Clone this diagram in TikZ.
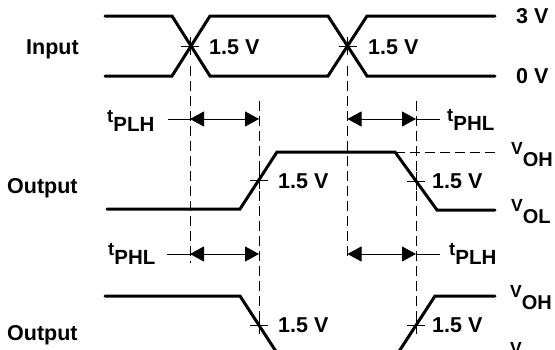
\documentclass[tikz,border=0pt]{standalone}
\usepackage{fontspec}
\setmainfont{Liberation Sans}
\usetikzlibrary{arrows.meta}
\newcommand\tsig[1]{{\fontsize{18.5}{18.5}\selectfont\raisebox{8.5pt}{t}}{\fontsize{20.5}{20.5}\selectfont #1}}
\newcommand\vsig[1]{{\fontsize{17.5}{17.5}\selectfont\raisebox{11.5pt}{V}}{\fontsize{20}{20}\selectfont #1}}
\begin{document}
\begin{tikzpicture}[x=1pt,y=-1pt,
  wave/.style={line width=3pt, line cap=round, line join=miter},
  guide/.style={line width=0.9pt, dash pattern=on 10pt off 5pt},
  thinline/.style={line width=0.9pt},
  lbl/.style={font=\fontsize{21.5}{21.5}\selectfont\bfseries, inner sep=0pt, anchor=base west},
  sig/.style={font=\bfseries, inner sep=0pt, anchor=base west},
  tarrow/.style={line width=0.9pt, arrows={Triangle[length=14pt,width=15pt]-Triangle[length=14pt,width=15pt]}},
  crossmark/.style={line width=0.9pt}]
\useasboundingbox (0,0) rectangle (555,349);
\clip (0,0) rectangle (555,349);

% ---------- Input ----------
\draw[wave] (105,16) -- (172,16) -- (210,76) -- (328,76) -- (367,16) -- (495,16);
\draw[wave] (105,76) -- (172,76) -- (210,16) -- (328,16) -- (367,76) -- (495,76);

% crossing points
\coordinate (c1) at (190,46);
\coordinate (c2) at (347.5,46);
\coordinate (o1a) at (259,180);
\coordinate (o1b) at (416,181);
\coordinate (o2a) at (259,325);
\coordinate (o2b) at (416,325);
\foreach \c in {c1,c2,o1a,o1b,o2a,o2b}{
  \draw[crossmark] ([xshift=-9pt]\c) -- ([xshift=9pt]\c);
  \draw[crossmark] ([yshift=-9pt]\c) -- ([yshift=9pt]\c);
}

% ---------- Output 1 ----------
\draw[wave] (107,209) -- (240,209) -- (277,152) -- (395,152) -- (437,210) -- (495,210);
\draw[guide] (395,152) -- (495,152);

% ---------- Output 2 ----------
\draw[wave] (105,296) -- (240,296) -- (277,353) -- (398,353) -- (435,296) -- (495,296);

% ---------- vertical reference lines ----------
\coordinate (v1t) at (190,66);  \coordinate (v1b) at (190,263);
\coordinate (v2t) at (259,101); \coordinate (v2b) at (259,331);
\coordinate (v3t) at (347.5,66); \coordinate (v3b) at (347.5,258);
\coordinate (v4t) at (416,101); \coordinate (v4b) at (416,331);
\draw[guide] (v1t) -- (v1b);
\draw[guide] (v2t) -- (v2b);
\draw[guide] (v3t) -- (v3b);
\draw[guide] (v4t) -- (v4b);

% ---------- delay arrows ----------
\coordinate (a1l) at (190,119);   \coordinate (a1r) at (259,119);
\coordinate (a2l) at (347.5,119); \coordinate (a2r) at (416,119);
\coordinate (a3l) at (190,254);   \coordinate (a3r) at (259,254);
\coordinate (a4l) at (347.5,254); \coordinate (a4r) at (416,254);
\coordinate (e1) at (168,119);
\coordinate (e2) at (440,119);
\coordinate (e3) at (167,254);
\coordinate (e4) at (440,254);
\draw[tarrow] (a1l) -- (a1r);
\draw[tarrow] (a2l) -- (a2r);
\draw[tarrow] (a3l) -- (a3r);
\draw[tarrow] (a4l) -- (a4r);
\draw[thinline] (e1) -- (a1l);
\draw[thinline] (a2r) -- (e2);
\draw[thinline] (e3) -- (a3l);
\draw[thinline] (a4r) -- (e4);

% ---------- labels ----------
\node[lbl] (lin) at (26,54) {Input};
\node[lbl] (lout1) at (7,193) {Output};
\node[lbl] (lout2) at (7,340) {Output};
\node[lbl] (lv1) at (209,54) {1.5 V};
\node[lbl] (lv2) at (368,54) {1.5 V};
\node[lbl] (l3v) at (516,23) {3 V};
\node[lbl] (l0v) at (516,83) {0 V};
\node[lbl] (lv3) at (278,188) {1.5 V};
\node[lbl] (lv4) at (432,188) {1.5 V};
\node[lbl] (lv5) at (278,332) {1.5 V};
\node[lbl] (lv6) at (432,332) {1.5 V};

\node[sig] (t1) at (107,131) {\tsig{PLH}};
\node[sig] (t2) at (447,130) {\tsig{PHL}};
\node[sig] (t3) at (108,264) {\tsig{PHL}};
\node[sig] (t4) at (449,264) {\tsig{PLH}};

\node[sig] (voh1) at (511,166) {\vsig{OH}};
\node[sig] (vol1) at (511,223) {\vsig{OL}};
\node[sig] (voh2) at (510,309) {\vsig{OH}};
\node[sig] (vol2) at (510,366) {\vsig{OL}};
\end{tikzpicture}
\end{document}
